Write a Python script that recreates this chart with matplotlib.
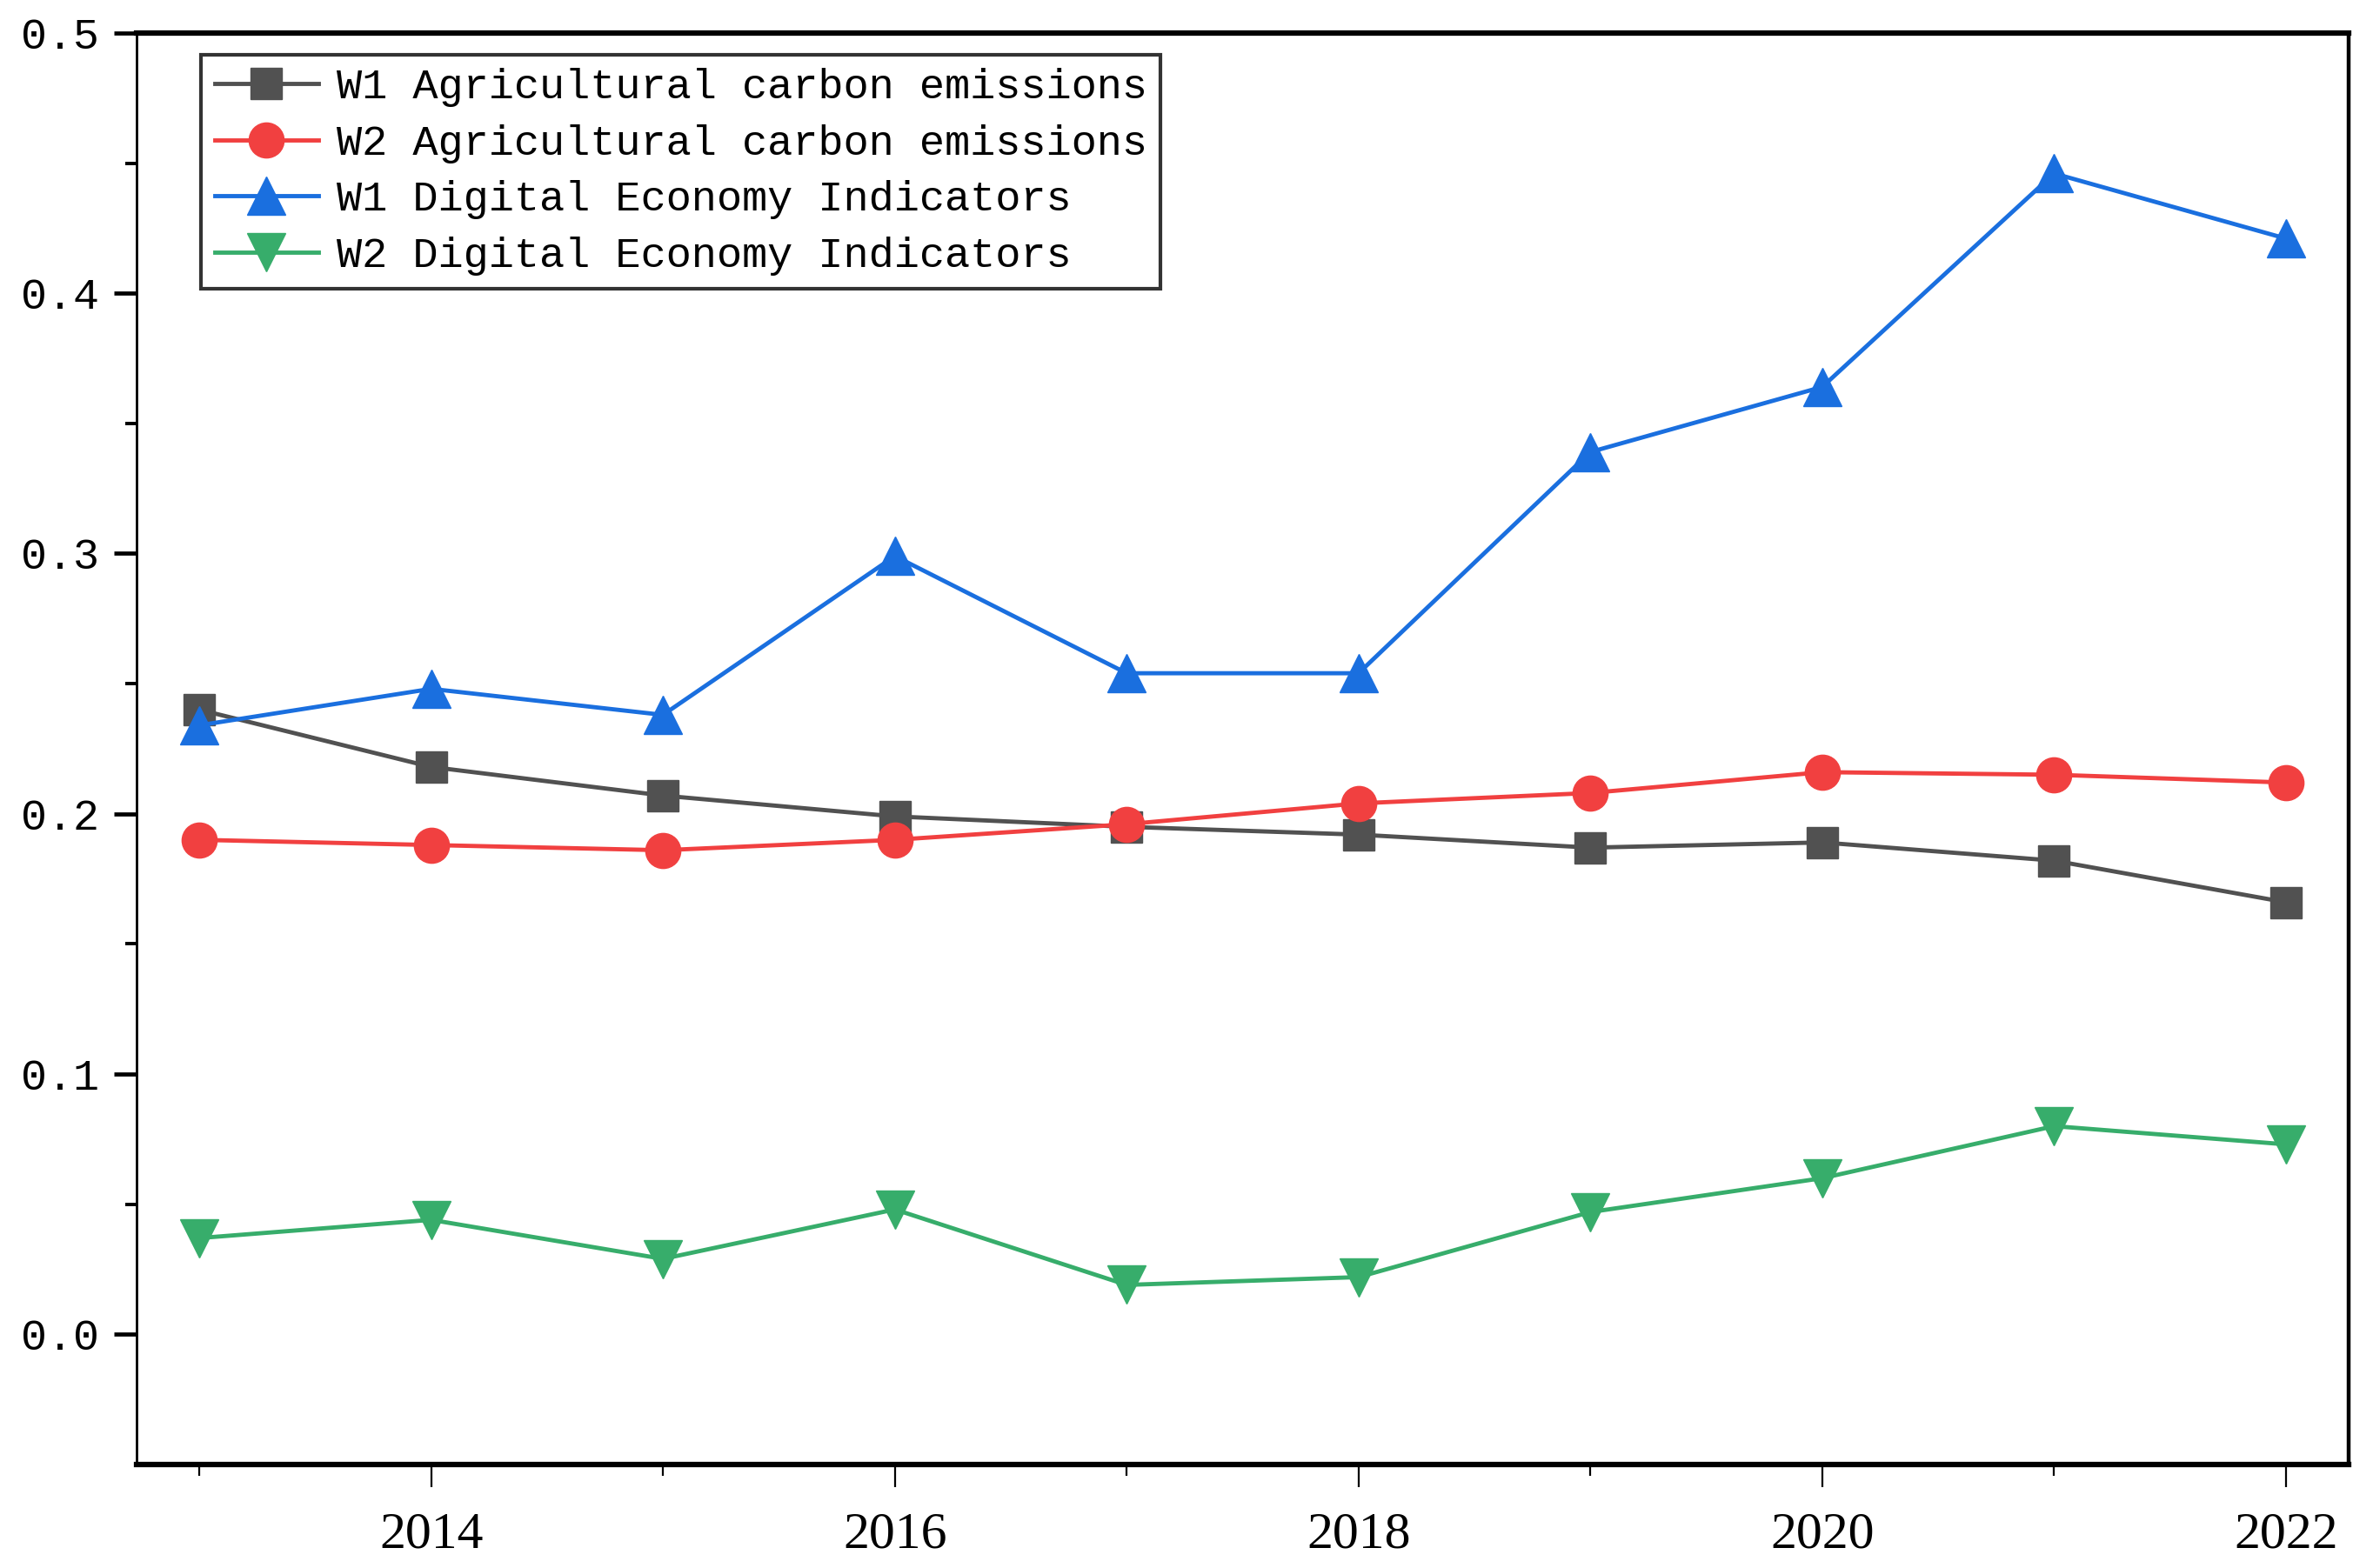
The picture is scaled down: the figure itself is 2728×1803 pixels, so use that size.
import matplotlib
matplotlib.use('Agg')
import matplotlib.pyplot as plt
from matplotlib.ticker import FixedLocator

years = [2013, 2014, 2015, 2016, 2017, 2018, 2019, 2020, 2021, 2022]

w1_carbon = [0.240, 0.218, 0.207, 0.199, 0.195, 0.192, 0.187, 0.189, 0.182, 0.166]
w2_carbon = [0.190, 0.188, 0.186, 0.190, 0.196, 0.204, 0.208, 0.216, 0.215, 0.212]
w1_digital = [0.234, 0.248, 0.238, 0.299, 0.254, 0.254, 0.339, 0.364, 0.446, 0.421]
w2_digital = [0.037, 0.044, 0.029, 0.048, 0.019, 0.022, 0.047, 0.060, 0.080, 0.073]

labels = ['W1 Agricultural carbon emissions',
          'W2 Agricultural carbon emissions',
          'W1 Digital Economy Indicators',
          'W2 Digital Economy Indicators']
colors = ['#515151', '#F14040', '#1A6FDF', '#37AD6B']

fig = plt.figure(figsize=(27.28, 18.03), dpi=100)
ax = fig.add_axes([0.0576, 0.066, 0.9321, 0.913])

ax.plot(years, w1_carbon, color=colors[0], lw=3.5, marker='s', ms=26, label=labels[0])
ax.plot(years, w2_carbon, color=colors[1], lw=3.5, marker='o', ms=29, label=labels[1])
ax.plot(years, w1_digital, color=colors[2], lw=3.5, marker='^', ms=32, label=labels[2])
ax.plot(years, w2_digital, color=colors[3], lw=3.5, marker='v', ms=32, label=labels[3])

ax.set_xlim(2012.73, 2022.27)
ax.set_ylim(-0.05, 0.5)

ax.xaxis.set_major_locator(FixedLocator([2014, 2016, 2018, 2020, 2022]))
ax.xaxis.set_minor_locator(FixedLocator([2013, 2015, 2017, 2019, 2021]))
ax.yaxis.set_major_locator(FixedLocator([0.0, 0.1, 0.2, 0.3, 0.4, 0.5]))
ax.yaxis.set_minor_locator(FixedLocator([0.05, 0.15, 0.25, 0.35, 0.45]))
ax.set_yticklabels(['0.0', '0.1', '0.2', '0.3', '0.4', '0.5'])

ax.tick_params(axis='x', which='major', direction='out', length=19, width=1.6, pad=20)
ax.tick_params(axis='x', which='minor', direction='out', length=9.5, width=1.6)
ax.tick_params(axis='y', which='major', direction='out', length=19, width=3.4, pad=12)
ax.tick_params(axis='y', which='minor', direction='out', length=9.5, width=2.8)
for lab in ax.get_xticklabels():
    lab.set_fontfamily('Liberation Serif')
    lab.set_fontsize(43)
for lab in ax.get_yticklabels():
    lab.set_fontfamily('Liberation Mono')
    lab.set_fontsize(36)

ax.spines['top'].set_linewidth(4.5)
ax.spines['bottom'].set_linewidth(4.5)
ax.spines['left'].set_linewidth(2.0)
ax.spines['right'].set_linewidth(3.2)

leg = ax.legend(loc='upper left', bbox_to_anchor=(0.0291, 0.9848), borderaxespad=0,
                prop={'family': 'Liberation Mono', 'size': 35}, frameon=True,
                fancybox=False, edgecolor='black', handlelength=2.46,
                handletextpad=0.42, borderpad=0.32, labelspacing=0.4)
leg.get_frame().set_linewidth(3.0)

fig.savefig('out.png', dpi=100)
